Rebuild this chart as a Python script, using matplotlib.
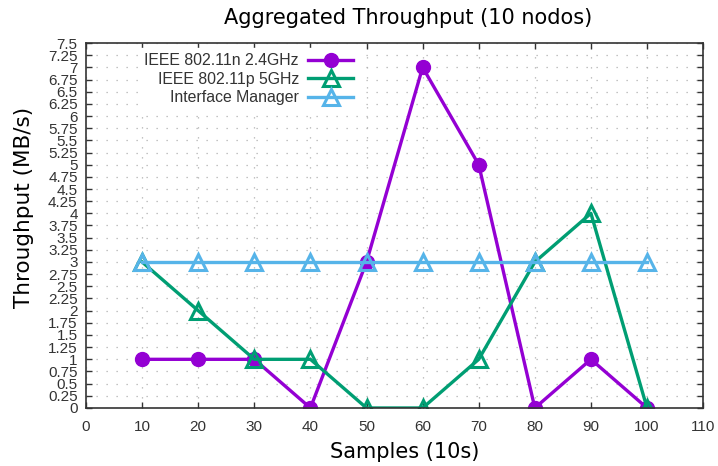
import matplotlib

matplotlib.use("Agg")
import matplotlib.pyplot as plt
import numpy as np

# data
samples = [10, 20, 30, 40, 50, 60, 70, 80, 90, 100]
thr_80211n = [1, 1, 1, 0, 3, 7, 5, 0, 1, 0]
thr_80211p = [3, 2, 1, 1, 0, 0, 1, 3, 4, 0]
thr_manager = [3, 3, 3, 3, 3, 3, 3, 3, 3, 3]

x_ticks = np.arange(0, 111, 10)
y_ticks = np.arange(0, 7.51, 0.25)
y_labels = [f"{v:g}" for v in y_ticks]

fig = plt.figure(figsize=(7.18, 4.66), dpi=100)
ax = fig.add_axes([0.1198, 0.1245, 0.8595, 0.7832])

ax.set_xlim(0, 110)
ax.set_ylim(0, 7.5)

# dotted grid
ax.set_xticks(x_ticks)
ax.set_yticks(y_ticks)
ax.set_yticklabels(y_labels)
ax.grid(True, color="#b0b0b0", linewidth=0.9, linestyle=(0, (1, 7)))
ax.set_axisbelow(True)

ax.plot(samples, thr_80211n, color="#9400D3", linewidth=2.4, marker="o",
        markersize=10, label="IEEE 802.11n 2.4GHz")
ax.plot(samples, thr_80211p, color="#009E73", linewidth=2.4, marker="^",
        markersize=11, markerfacecolor="none", markeredgewidth=2.2,
        label="IEEE 802.11p 5GHz")
ax.plot(samples, thr_manager, color="#56B4E9", linewidth=2.4, marker="^",
        markersize=11, markerfacecolor="none", markeredgewidth=2.2,
        label="Interface Manager")

for s in ax.spines.values():
    s.set_color("#333333")
    s.set_linewidth(1.2)

ax.tick_params(axis="both", direction="in", length=4.5, width=1.0,
               color="#333333", top=True, right=True,
               labelcolor="#333333", labelsize=10.5)
ax.tick_params(axis="x", pad=9)
ax.tick_params(axis="y", pad=6)
for lab in ax.get_xticklabels() + ax.get_yticklabels():
    lab.set_family("Liberation Sans")
    lab.set_fontsize(11)

leg = ax.legend(loc="upper right", bbox_to_anchor=(0.44, 0.985),
                markerfirst=False, frameon=True, facecolor="white",
                edgecolor="white", framealpha=1, fancybox=False,
                prop={"family": "Liberation Sans", "size": 11.4},
                labelspacing=0.22, handlelength=2.8, handletextpad=0.6,
                borderpad=0.3, borderaxespad=0)
for t in leg.get_texts():
    t.set_color("#333333")

fig.text(0.568, 0.961, "Aggregated Throughput (10 nodos)", ha="center",
         va="center", fontsize=15)
fig.text(0.564, 0.03, "Samples (10s)", ha="center", va="center", fontsize=15)
fig.text(0.034, 0.554, "Throughput (MB/s)", ha="center", va="center",
         rotation=90, fontsize=15.5)

fig.savefig("out.png", dpi=100)
plt.close(fig)
